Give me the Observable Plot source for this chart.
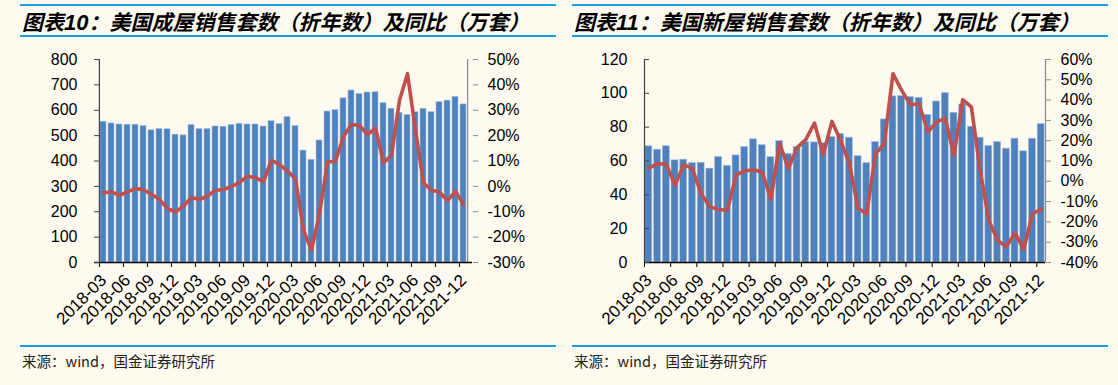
<!DOCTYPE html>
<html><head><meta charset="utf-8">
<script src="https://cdn.jsdelivr.net/npm/d3@7"></script>
<script src="https://cdn.jsdelivr.net/npm/@observablehq/plot@0.6"></script>
<style>
html,body{margin:0;padding:0}
body{background:#fffaf0;width:1118px;height:385px;overflow:hidden;position:relative;font-family:"Liberation Sans",Arial,sans-serif}
.rule{position:absolute;height:2px;background:#1a9de0}
.title{position:absolute;top:6px;font:italic bold 21px "Noto Sans CJK SC",sans-serif;white-space:nowrap;color:#000}
.title .num{font-family:"Liberation Sans",Arial,sans-serif;font-size:22px}
.src{position:absolute;top:350px;font:14.5px "Noto Sans CJK SC",sans-serif;color:#222;white-space:nowrap}
.chart{position:absolute;top:45px}
</style></head>
<body>
<div class="rule" style="left:20px;width:536px;top:4px"></div>
<div class="rule" style="left:20px;width:536px;top:35px"></div>
<div class="rule" style="left:20px;width:536px;top:345px"></div>
<div class="rule" style="left:572px;width:536px;top:4px"></div>
<div class="rule" style="left:572px;width:536px;top:35px"></div>
<div class="rule" style="left:572px;width:536px;top:345px"></div>
<div class="title" style="left:22px">图表<span class="num">10</span>：美国成屋销售套数（折年数）及同比（万套）</div>
<div class="title" style="left:574px">图表<span class="num">11</span>：美国新屋销售套数（折年数）及同比（万套）</div>
<div class="src" style="left:22px">来源：wind，国金证券研究所</div>
<div class="src" style="left:574px">来源：wind，国金证券研究所</div>
<div id="c1" class="chart" style="left:0px"></div>
<div id="c2" class="chart" style="left:560px"></div>
<script>
const months = ["2018-03","2018-04","2018-05","2018-06","2018-07","2018-08","2018-09","2018-10","2018-11","2018-12",
"2019-01","2019-02","2019-03","2019-04","2019-05","2019-06","2019-07","2019-08","2019-09","2019-10","2019-11","2019-12",
"2020-01","2020-02","2020-03","2020-04","2020-05","2020-06","2020-07","2020-08","2020-09","2020-10","2020-11","2020-12",
"2021-01","2021-02","2021-03","2021-04","2021-05","2021-06","2021-07","2021-08","2021-09","2021-10","2021-11","2021-12"];
const labelMonths = ["2018-03","2018-06","2018-09","2018-12","2019-03","2019-06","2019-09","2019-12",
"2020-03","2020-06","2020-09","2020-12","2021-03","2021-06","2021-09","2021-12"];

// 美国成屋销售套数（万套）
const existingSales = [555,548,544,543,543,538,521,526,525,504,501,542,526,526,536,535,542,547,544,544,536,557,546,573,538,441,405,481,595,601,647,678,664,670,671,628,606,590,582,592,606,593,632,638,653,623];
// 成屋同比（%）
const existingYoY = [-2.5,-2.2,-3.5,-2.2,-0.9,-1.3,-3.2,-5.1,-8.8,-10.1,-7.8,-4.4,-5.2,-3.8,-1.5,-1.3,0.0,1.5,4.1,3.3,2.0,10.3,8.6,6.0,3.0,-17.3,-25.1,-10.7,9.6,9.9,19.7,24.4,24.0,20.4,23.0,9.3,12.2,33.9,44.4,22.1,1.3,-1.5,-2.2,-5.7,-1.9,-7.2];
// 美国新屋销售套数（万套）
const newSales = [68.7,66.7,68.7,60.4,60.8,58.8,59.0,55.5,62.4,57.2,63.3,68.3,72.8,69.4,62.3,71.8,64.1,68.2,71.2,71.0,70.6,74.1,76.1,73.8,62.9,58.8,71.2,84.6,98.2,98.4,97.8,97.4,87.3,95.2,100.1,88.5,93.4,80.3,73.8,68.9,71.2,67.3,73.2,65.7,73.2,81.8];
// 新屋同比（%）
const newYoY = [6.5,8.7,8.4,-2.0,8.2,6.2,-6.1,-12.6,-13.9,-14.3,3.0,5.1,5.7,4.6,-9.0,18.8,6.2,16.6,20.5,28.7,13.1,29.5,20.2,8.7,-13.4,-15.9,13.6,18.5,53.0,44.8,37.7,38.2,24.3,29.2,31.1,12.8,40.2,36.6,5.4,-19.2,-29.0,-32.3,-25.4,-33.6,-15.9,-13.8];

const leftTicks1 = [0,100,200,300,400,500,600,700,800];
const rightTicks1 = [-30,-20,-10,0,10,20,30,40,50];
const leftTicks2 = [0,20,40,60,80,100,120];
const rightTicks2 = [-40,-30,-20,-10,0,10,20,30,40,50,60];

function chart({bars, yoy, lTicks, rTicks, width, ml, mr}) {
  const yMax = lTicks[lTicks.length-1];
  const pMin = rTicks[0], pMax = rTicks[rTicks.length-1];
  const toY = p => (p - pMin) / (pMax - pMin) * yMax;
  const fromY = y => Math.round(y / yMax * (pMax - pMin) + pMin);
  const data = months.map((m, i) => ({m, v: bars[i], p: yoy[i]}));
  const step = (width - ml - mr) / months.length;
  return Plot.plot({
    width, height: 295, marginLeft: ml, marginRight: mr, marginTop: 14, marginBottom: 78,
    style: {background: "transparent", fontFamily: "Liberation Sans, Arial, sans-serif", fontSize: "16px", color: "#000", overflow: "visible"},
    x: {domain: months, paddingInner: 0.2, paddingOuter: 0.1, label: null},
    y: {domain: [0, yMax], label: null},
    marks: [
      Plot.barY(data, {x: "m", y: "v", fill: "#4f81bd", stroke: "#a9c1e0", strokeWidth: 0.6}),
      Plot.lineY(data, {x: "m", y: d => toY(d.p), stroke: "#c0504d", strokeWidth: 3.6, strokeLinejoin: "round", strokeLinecap: "round"}),
      Plot.ruleX([months[0]], {dx: -step/2, y1: 0, y2: yMax, stroke: "#404040", strokeWidth: 1.2}),
      Plot.ruleX([months[months.length-1]], {dx: step/2, y1: 0, y2: yMax, stroke: "#8a8a8a", strokeWidth: 1.2}),
      Plot.ruleY([0], {stroke: "#000", strokeWidth: 1.5}),
      Plot.axisY(lTicks, {anchor: "left", tickSize: 0, tickPadding: 17, label: null, fontSize: 16}),
      Plot.axisY(lTicks, {anchor: "left", tickSize: 5, dx: 5, tickFormat: () => "", label: null, stroke: "#404040"}),
      Plot.axisY(rTicks.map(toY), {anchor: "right", tickSize: 5, tickPadding: 10, label: null, fontSize: 16, stroke: "#8a8a8a", tickFormat: d => fromY(d) + "%"}),
      Plot.axisX(labelMonths, {tickSize: 0, tickRotate: -45, tickPadding: 15, label: null, fontSize: 17}),
      Plot.axisX(labelMonths, {tickSize: 5, dx: -step/2, tickFormat: () => "", label: null, stroke: "#000"})
    ]
  });
}

document.getElementById("c1").append(chart({bars: existingSales, yoy: existingYoY, lTicks: leftTicks1, rTicks: rightTicks1, width: 560, ml: 94, mr: 88}));
document.getElementById("c2").append(chart({bars: newSales, yoy: newYoY, lTicks: leftTicks2, rTicks: rightTicks2, width: 558, ml: 84, mr: 73}));
</script>
</body></html>
